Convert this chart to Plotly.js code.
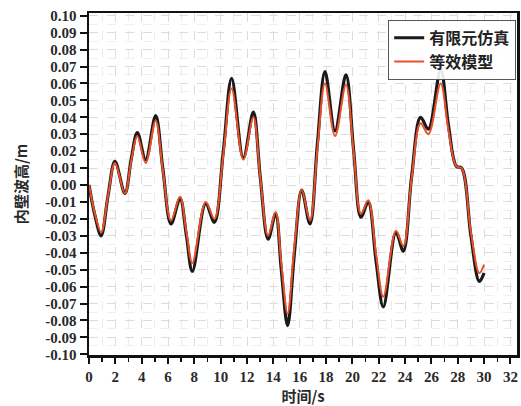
<!DOCTYPE html>
<html><head><meta charset="utf-8">
<script src="https://cdn.plot.ly/plotly-3.0.1.min.js"></script>
<style>body{margin:0;padding:0;background:#fff}#chart{width:521px;height:406px}</style>
</head><body><div id="chart"></div>
<script>
const timeS = [0,0.45,0.92,1.45,1.97,2.73,3.2,3.67,4.3,5.06,5.6,6.23,6.91,7.4,7.85,8.86,9.52,10.2,10.83,11.72,12.48,13.0,13.6,14.17,14.6,15.08,15.6,16.15,16.78,17.35,17.92,18.68,19.51,20.1,20.65,21.2,21.8,22.35,23.31,23.87,24.5,25.18,25.77,26.7,27.3,27.9,28.3,29.0,29.64,30.0];
const feSim = [0,-0.018,-0.030,-0.006,0.014,-0.005,0.015,0.031,0.015,0.041,0.010,-0.023,-0.008,-0.030,-0.051,-0.011,-0.022,0.020,0.063,0.016,0.043,0.005,-0.032,-0.017,-0.050,-0.083,-0.040,-0.003,-0.023,0.025,0.067,0.032,0.065,0.020,-0.019,-0.010,-0.045,-0.072,-0.028,-0.039,0.005,0.040,0.033,0.068,0.035,0.011,0.010,-0.030,-0.057,-0.052];
const eqModel = [0,-0.017,-0.028,-0.006,0.013,-0.005,0.014,0.029,0.013,0.038,0.009,-0.021,-0.007,-0.028,-0.046,-0.010,-0.020,0.018,0.057,0.015,0.040,0.005,-0.030,-0.016,-0.046,-0.076,-0.036,-0.003,-0.021,0.022,0.060,0.029,0.059,0.019,-0.017,-0.009,-0.041,-0.066,-0.027,-0.036,0.004,0.0365,0.030,0.060,0.032,0.011,0.010,-0.028,-0.052,-0.047];
const seriesNames = ['有限元仿真','等效模型'];
const yTickVals = [0.10,0.09,0.08,0.07,0.06,0.05,0.04,0.03,0.02,0.01,0,-0.01,-0.02,-0.03,-0.04,-0.05,-0.06,-0.07,-0.08,-0.09,-0.10];
const yTickText = ['0.10','0.09','0.08','0.07','0.06','0.05','0.04','0.03','0.02','0.01','0.00','-0.01','-0.02','-0.03','-0.04','-0.05','-0.06','-0.07','-0.08','-0.09','-0.10'];
const xTickVals = [0,2,4,6,8,10,12,14,16,18,20,22,24,26,28,30,32];

const numFont = {family:'Liberation Serif, DejaVu Serif, serif', size:15, color:'#2a2a2a', weight:'bold'};
const cjkFont = {family:'Noto Sans CJK SC, sans-serif', size:15, color:'#2a2a2a', weight:'bold'};

const traces = [
  {x:timeS, y:feSim, name:seriesNames[0], type:'scatter', mode:'lines',
   line:{color:'#1a1a1a', width:3.2, shape:'spline', smoothing:1}},
  {x:timeS, y:eqModel, name:seriesNames[1], type:'scatter', mode:'lines',
   line:{color:'#e8502a', width:2, shape:'spline', smoothing:1}}
];
const layout = {
  width:521, height:406,
  margin:{l:89, r:4, t:13, b:51},
  paper_bgcolor:'#fff', plot_bgcolor:'#fff',
  showlegend:true,
  legend:{x:0.699, y:0.98, xanchor:'left', yanchor:'top',
    bgcolor:'rgba(255,255,255,0.9)', bordercolor:'#555', borderwidth:1,
    font:{family:'Liberation Serif, Noto Sans CJK SC, serif', size:16, color:'#222', weight:'bold'},
    tracegroupgap:0, itemwidth:30},
  xaxis:{range:[0,32.5], tickvals:xTickVals, ticks:'outside', ticklen:6, tickwidth:2, tickcolor:'#111',
    showline:true, linecolor:'#111', linewidth:2.5, mirror:true,
    showgrid:true, gridcolor:'#dcdcdc', griddash:'dash', gridwidth:1,
    minor:{dtick:1, tick0:0, ticks:'outside', ticklen:4, tickwidth:1.5, tickcolor:'#111', showgrid:true, gridcolor:'#ececec', griddash:'dash'},
    zeroline:false, tickfont:numFont,
    title:{text:'时间/s', font:cjkFont, standoff:7}},
  yaxis:{range:[-0.1004,0.1016], tickvals:yTickVals, ticktext:yTickText, ticks:'outside', ticklen:7, tickwidth:2, tickcolor:'#111',
    showline:true, linecolor:'#111', linewidth:2.5, mirror:true,
    showgrid:true, gridcolor:'#dcdcdc', griddash:'dash', gridwidth:1,
    minor:{dtick:0.005, showgrid:true, gridcolor:'#efefef', griddash:'dash', ticks:''},
    zeroline:false, tickfont:numFont,
    title:{text:'内壁波高/m', font:cjkFont, standoff:14}}
};
Plotly.newPlot('chart', traces, layout, {displayModeBar:false, staticPlot:true});
</script></body></html>
